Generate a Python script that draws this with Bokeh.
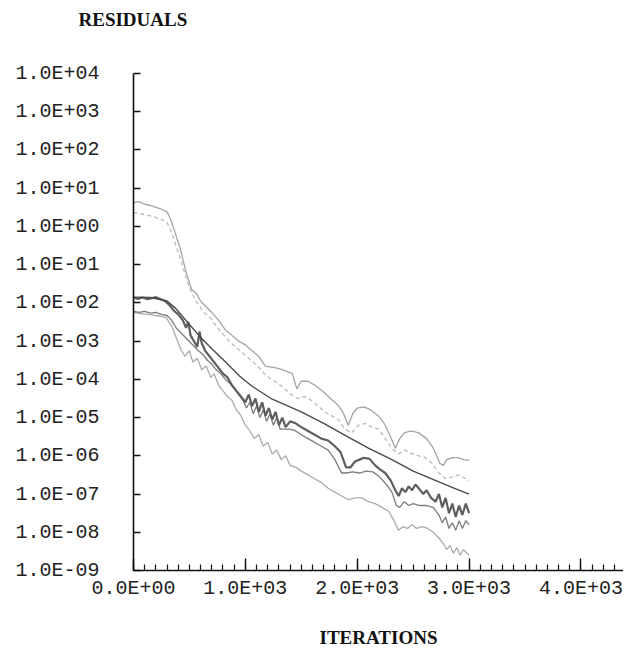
from bokeh.plotting import figure
from bokeh.models import FixedTicker, Range1d, LinearAxis
from bokeh.embed import file_html
from bokeh.resources import INLINE

# ---- data (iterations, log10 of residual) ----
s1_iter = [0, 50, 100, 150, 200, 250, 300, 330, 370, 420, 470, 520, 560, 600, 650, 700, 760, 820, 880, 940,
           1000, 1060, 1120, 1180, 1240, 1300, 1360, 1420, 1460, 1500, 1560, 1620, 1700, 1760, 1820, 1870,
           1920, 1960, 2000, 2060, 2120, 2190, 2240, 2290, 2340, 2380, 2420, 2480, 2550, 2620, 2680, 2740,
           2770, 2800, 2850, 2900, 2950, 3000]
s1_log = [0.62, 0.65, 0.58, 0.55, 0.5, 0.45, 0.38, 0.2, -0.15, -0.6, -1.2, -1.65, -1.75, -1.95, -2.1, -2.25,
          -2.45, -2.7, -2.85, -3.0, -3.1, -3.25, -3.4, -3.66, -3.68, -3.72, -3.78, -3.85, -4.25, -4.05, -4.05,
          -4.15, -4.33, -4.5, -4.65, -4.85, -5.2, -4.9, -4.75, -4.72, -4.8, -4.96, -5.15, -5.45, -5.8, -5.55,
          -5.4, -5.35, -5.4, -5.55, -5.8, -6.2, -6.25, -6.1, -6.05, -6.05, -6.1, -6.12]

s2_iter = [0, 60, 120, 180, 240, 300, 340, 380, 430, 480, 530, 580, 630, 690, 750, 810, 870, 930, 990, 1050,
           1110, 1170, 1230, 1290, 1350, 1410, 1470, 1530, 1590, 1650, 1710, 1770, 1830, 1890, 1950, 2010,
           2070, 2130, 2190, 2250, 2310, 2370, 2430, 2490, 2550, 2610, 2670, 2730, 2790, 2850, 2910, 2970, 3000]
s2_log = [0.37, 0.33, 0.3, 0.25, 0.2, 0.1, -0.15, -0.5, -0.95, -1.45, -1.8, -2.05, -2.25, -2.4, -2.65, -2.85,
          -3.05, -3.2, -3.35, -3.5, -3.65, -3.85, -4.0, -4.1, -4.25, -4.4, -4.5, -4.45, -4.55, -4.7, -4.85,
          -4.95, -5.05, -5.3, -5.4, -5.2, -5.15, -5.25, -5.3, -5.55, -5.8, -5.95, -5.85, -5.95, -6.0, -6.05,
          -6.2, -6.45, -6.6, -6.55, -6.5, -6.6, -6.65]

s3_iter = [0, 150, 300, 380, 460, 590, 700, 800, 950, 1060, 1240, 1500, 1700, 1900, 2100, 2310, 2500, 2730,
           2870, 3000]
s3_log = [-1.85, -1.86, -1.95, -2.15, -2.43, -2.87, -3.2, -3.48, -3.92, -4.18, -4.52, -4.85, -5.15, -5.48,
          -5.8, -6.1, -6.4, -6.68, -6.85, -7.0]

s4_iter = [0, 40, 80, 120, 160, 200, 240, 280, 320, 360, 400, 440, 470, 490, 510, 540, 570, 590, 610, 640,
           680, 720, 760, 800, 840, 880, 920, 960, 1000, 1030, 1060, 1090, 1120, 1150, 1180, 1210, 1240,
           1270, 1300, 1330, 1360, 1400, 1450, 1500, 1560, 1620, 1680, 1740, 1800, 1850, 1900, 1940, 1980,
           2020, 2060, 2110, 2160, 2200, 2250, 2300, 2340, 2370, 2400, 2430, 2460, 2490, 2520, 2550, 2590,
           2620, 2660, 2700, 2730, 2760, 2790, 2820, 2850, 2880, 2910, 2940, 2970, 3000]
s4_log = [-1.86, -1.9, -1.86, -1.9, -1.88, -1.85, -1.9, -1.95, -2.05, -2.2, -2.3, -2.45, -2.65, -2.5, -2.85,
          -3.0, -3.15, -2.75, -3.05, -3.25, -3.4, -3.55, -3.7, -3.85, -3.95, -4.15, -4.3, -4.45, -4.6, -4.4,
          -4.7, -4.5, -4.85, -4.6, -4.95, -4.75, -5.05, -4.85, -5.2, -5.0, -5.25, -5.1, -5.15, -5.25, -5.35,
          -5.45, -5.55, -5.6, -5.75, -5.9, -6.3, -6.3, -6.15, -6.1, -6.05, -6.08, -6.25, -6.35, -6.45, -6.65,
          -6.9, -7.05, -6.85, -6.95, -6.8, -6.9, -6.75, -6.85, -7.0, -6.9, -7.1, -7.2, -7.0, -7.35, -7.1,
          -7.5, -7.25, -7.6, -7.3, -7.55, -7.25, -7.5]

s5_iter = [0, 50, 100, 150, 200, 250, 300, 340, 380, 430, 480, 530, 580, 620, 660, 700, 740, 780, 820, 860,
           900, 940, 980, 1010, 1040, 1070, 1100, 1130, 1160, 1190, 1220, 1250, 1280, 1310, 1350, 1400, 1450,
           1500, 1560, 1620, 1680, 1740, 1800, 1860, 1900, 1960, 2020, 2080, 2140, 2200, 2260, 2310, 2350,
           2380, 2420, 2460, 2500, 2560, 2620, 2680, 2730, 2760, 2790, 2820, 2850, 2880, 2910, 2940, 2970, 3000]
s5_log = [-2.22, -2.25, -2.22, -2.27, -2.25, -2.3, -2.33, -2.45, -2.65, -2.8, -2.95, -3.1, -3.25, -3.35, -3.5,
          -3.6, -3.75, -3.85, -4.0, -4.1, -4.25, -4.4, -4.55, -4.75, -4.6, -4.9, -4.7, -5.0, -4.8, -5.1, -4.9,
          -5.2, -5.0, -5.3, -5.3, -5.3, -5.35, -5.45, -5.55, -5.65, -5.75, -5.85, -6.1, -6.45, -6.45, -6.42,
          -6.45, -6.4, -6.42, -6.55, -6.75, -6.95, -7.3, -7.35, -7.2, -7.3, -7.25, -7.3, -7.3, -7.35, -7.55,
          -7.75, -7.6, -7.9, -7.75, -7.95, -7.7, -7.9, -7.7, -7.8]

s6_iter = [0, 60, 120, 180, 240, 290, 340, 380, 420, 460, 500, 530, 570, 610, 650, 690, 720, 760, 800, 840,
           880, 920, 960, 1000, 1040, 1080, 1120, 1160, 1200, 1240, 1280, 1320, 1360, 1400, 1450, 1500, 1560,
           1620, 1680, 1740, 1800, 1860, 1920, 1980, 2040, 2100, 2160, 2220, 2280, 2330, 2370, 2410, 2450,
           2490, 2530, 2580, 2630, 2680, 2730, 2770, 2800, 2830, 2860, 2890, 2920, 2950, 2980, 3000]
s6_log = [-2.25, -2.28, -2.3, -2.32, -2.35, -2.38, -2.6, -2.9, -3.2, -3.4, -3.25, -3.55, -3.45, -3.75, -3.65,
          -3.95, -3.85, -4.15, -4.3, -4.45, -4.55, -4.8, -4.95, -5.2, -5.35, -5.55, -5.45, -5.75, -5.65, -5.95,
          -5.85, -6.1, -6.0, -6.25, -6.3, -6.4, -6.5, -6.6, -6.7, -6.85, -6.95, -7.05, -7.15, -7.1, -7.1, -7.2,
          -7.25, -7.35, -7.45, -7.7, -7.95, -7.85, -7.9, -7.8, -7.9, -7.85, -7.9, -8.0, -8.15, -8.3, -8.45,
          -8.35, -8.55, -8.4, -8.6, -8.45, -8.55, -8.6]

y_exponents = [-9, -8, -7, -6, -5, -4, -3, -2, -1, 0, 1, 2, 3, 4]
y_tick_labels = ["1.0E-09", "1.0E-08", "1.0E-07", "1.0E-06", "1.0E-05", "1.0E-04", "1.0E-03",
                 "1.0E-02", "1.0E-01", "1.0E+00", "1.0E+01", "1.0E+02", "1.0E+03", "1.0E+04"]
x_ticks = [0, 1000, 2000, 3000, 4000]
x_tick_labels = ["0.0E+00", "1.0E+03", "2.0E+03", "3.0E+03", "4.0E+03"]

# ---- figure ----
y_ticks = [10.0 ** e for e in y_exponents]

p = figure(width=623, height=652, output_backend="svg", toolbar_location=None,
           y_axis_type="log", x_range=Range1d(0, 4380), y_range=Range1d(y_ticks[0], y_ticks[-1]),
           min_border_left=133, min_border_right=0, min_border_top=73, min_border_bottom=82)
p.outline_line_color = None
p.xgrid.visible = False
p.ygrid.visible = False

# invisible spacer axis above the frame, so that the heading sits higher
spacer = LinearAxis(ticker=FixedTicker(ticks=[]), axis_line_color=None,
                    major_tick_in=0, major_tick_out=0, minor_tick_in=0, minor_tick_out=0,
                    axis_label=" ", axis_label_standoff=28, axis_label_text_font_size="10px")
p.add_layout(spacer, "above")

p.title.text = "RESIDUALS"
p.title.align = "left"
p.title.offset = -55
p.title.standoff = 4
p.title.text_font = "Liberation Serif"
p.title.text_font_size = "19px"
p.title.text_font_style = "bold"
p.title.text_color = "#111111"

series = [
    (s1_iter, s1_log, "#a4a4a4", 1.3, "solid"),
    (s2_iter, s2_log, "#bababa", 1.3, "4 3"),
    (s6_iter, s6_log, "#ababab", 1.3, "solid"),
    (s5_iter, s5_log, "#7c7c7c", 1.3, "solid"),
    (s4_iter, s4_log, "#5e5e5e", 2.2, "solid"),
    (s3_iter, s3_log, "#4a4a4a", 1.4, "solid"),
]
for xs, ls, col, w, dash in series:
    p.line(xs, [10.0 ** v for v in ls], line_color=col, line_width=w, line_dash=dash)

# y axis
p.yaxis.ticker = FixedTicker(ticks=y_ticks, minor_ticks=[])
p.yaxis.major_label_overrides = dict(zip(y_ticks, y_tick_labels))
p.yaxis.major_tick_in = 7
p.yaxis.major_tick_out = 0
p.yaxis.minor_tick_in = 0
p.yaxis.minor_tick_out = 0
p.yaxis.major_label_standoff = 34
p.yaxis.axis_line_width = 1.6
p.yaxis.major_tick_line_width = 1.4

# x axis (the bottom one)
xa = p.below[0]
xa.ticker = FixedTicker(ticks=x_ticks, minor_ticks=list(range(0, 4400, 100)))
xa.major_label_overrides = dict(zip(x_ticks, x_tick_labels))
xa.major_tick_in = 12
xa.major_tick_out = 0
xa.minor_tick_in = 6
xa.minor_tick_out = 0
xa.major_label_standoff = 6
xa.axis_line_width = 1.6
xa.major_tick_line_width = 1.4
xa.minor_tick_line_width = 1.2
xa.axis_label = "ITERATIONS"
xa.axis_label_standoff = 24
xa.axis_label_text_font = "Liberation Serif"
xa.axis_label_text_font_size = "19px"
xa.axis_label_text_font_style = "bold"
xa.axis_label_text_color = "#111111"

for ax in (xa, p.yaxis[0]):
    ax.major_label_text_font = "Liberation Mono"
    ax.major_label_text_font_size = "20px"
    ax.major_label_text_color = "#222222"
    ax.axis_line_color = "#111111"
    ax.major_tick_line_color = "#111111"
    ax.minor_tick_line_color = "#111111"

open("out.html", "w").write(file_html(p, INLINE))
